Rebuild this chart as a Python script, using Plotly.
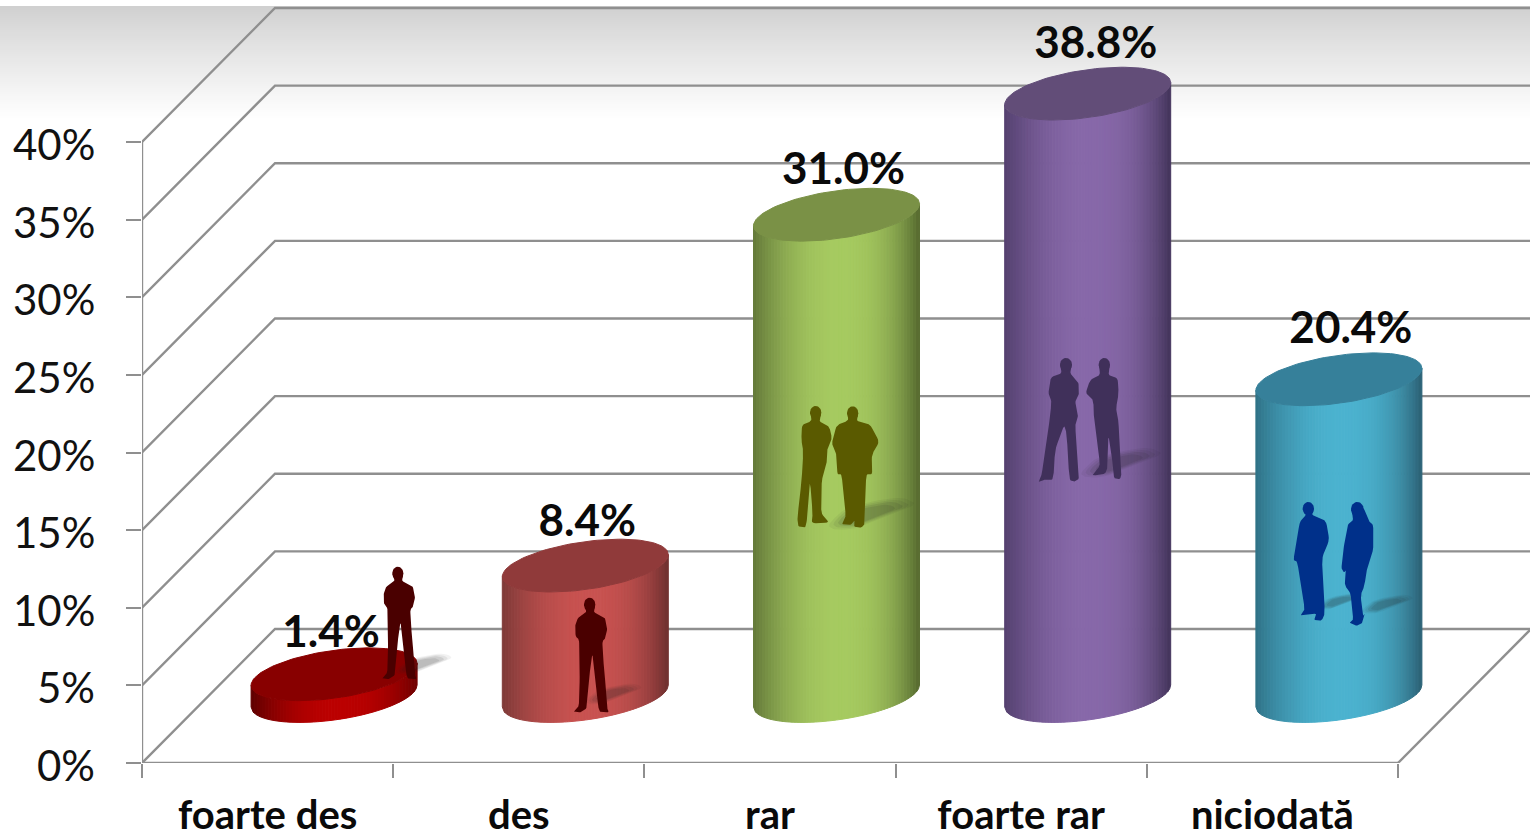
import numpy as np
import plotly.graph_objects as go

# ---------- data ----------
categories = ["foarte des", "des", "rar", "foarte rar", "niciodată"]
values = [1.4, 8.4, 31.0, 38.8, 20.4]
value_labels = ["1.4%", "8.4%", "31.0%", "38.8%", "20.4%"]
y_ticks = [0, 5, 10, 15, 20, 25, 30, 35, 40]
y_tick_labels = ["0%", "5%", "10%", "15%", "20%", "25%", "30%", "35%", "40%"]

# ---------- style ----------
edge_left = ["#5e0000", "#7d3a38", "#64793a", "#54406e", "#2f7186"]
mid_color = ["#bb0000", "#c85250", "#a6ca60", "#8768a9", "#4bb2cf"]
edge_right = ["#6e0000", "#6e3030", "#566a30", "#43345a", "#2c6074"]
top_color = ["#880000", "#903a3a", "#7a9146", "#624d78", "#36809a"]
people_color = ["#4a0000", "#4a0000", "#5a5a00", "#40305a", "#00308a"]
label_dx = [-3, 2, 7, 8, 12]
label_dy = [-38, -41, -42, -47, -47]
GRID = "#8f8f8f"

# ---------- pixel geometry ----------
W, H = 1530, 838
L, B = 142, 75                 # plot area: x 142..1530, y 0..763
PX_PER_CAT = 251.2
PX_PER_PCT = 15.525
DEPTH_X, DEPTH_Y = 133, 134     # offset of the back wall, pixels


def ux(px):
    return (np.asarray(px, float) - L) / PX_PER_CAT


def uy(py):
    return (H - B - np.asarray(py, float)) / PX_PER_PCT


DX, DY = DEPTH_X / PX_PER_CAT, DEPTH_Y / PX_PER_PCT
fig = go.Figure()


def poly(xs, ys, color, opacity=1.0, line=False):
    fig.add_trace(go.Scatter(
        x=list(xs), y=list(ys), mode="lines", fill="toself", fillcolor=color,
        line=dict(color=color, width=1 if line else 0), opacity=opacity,
        hoverinfo="skip", showlegend=False))


def seg(xs, ys):
    fig.add_trace(go.Scatter(x=xs, y=ys, mode="lines", cliponaxis=False,
                             line=dict(color=GRID, width=2.4),
                             hoverinfo="skip", showlegend=False))


# ---------- top gradient ----------
shapes = []
x0_paper = -L / (W - L)
n_bg = 57
for i in range(n_bg):
    py0, py1 = 6 + i * 2, 6 + (i + 1) * 2 + 2
    c = int(round(208 + (255 - 208) * (i / (n_bg - 1)) ** 0.9))
    shapes.append(dict(type="rect", xref="paper", yref="paper", layer="below",
                       x0=x0_paper, x1=1, y0=1 - py1 / (H - B), y1=1 - py0 / (H - B),
                       fillcolor=f"rgb({c},{c},{c})", line=dict(width=0)))

# ---------- walls ----------
x_end = (W - L) / PX_PER_CAT
for v in y_ticks:
    seg([0, DX, x_end], [v, v + DY, v + DY])
seg([0, 0], [0, y_ticks[-1]])
seg([0, len(categories)], [0, 0])
seg([len(categories), len(categories) + DX], [0, DY])


# ---------- cylinders ----------
def hex2rgb(h):
    return np.array([int(h[i:i + 2], 16) for i in (1, 3, 5)], float)


def shade(u, i):
    a = hex2rgb(edge_left[i] if u < 0 else edge_right[i])
    b = hex2rgb(mid_color[i])
    t = (abs(u) ** 1.9) if u < 0 else (abs(u) ** 2.6)
    c = b + (a - b) * t
    return "rgb({:.0f},{:.0f},{:.0f})".format(*c)


RX, TILT, RB = 83 / PX_PER_CAT, 11 / PX_PER_PCT, 24 / PX_PER_PCT
N = 56
for i, v in enumerate(values):
    cx = i + 0.5 + DX / 2
    cy0 = DY / 2
    cy1 = v + DY / 2
    edges = np.linspace(-1, 1, N + 1)
    for a, b in zip(edges[:-1], edges[1:]):
        us = np.linspace(a, b, 4)
        xs = cx + RX * us
        front = TILT * us - RB * np.sqrt(np.clip(1 - us ** 2, 0, 1))
        poly(np.r_[xs, xs[::-1], xs[0]],
             np.r_[cy0 + front, (cy1 + front)[::-1], cy0 + front[0]],
             shade((a + b) / 2, i), line=True)
    th = np.linspace(0, 2 * np.pi, 120)
    poly(cx + RX * np.cos(th), cy1 + TILT * np.cos(th) + RB * np.sin(th), top_color[i], line=True)


# ---------- silhouettes (traced outlines, 3x zoom coordinates of their crops) ----------
man_a = [(50, 10), (67, 20), (62, 43), (95, 57), (103, 90), (98, 120), (88, 130), (90, 175), (98, 265),
         (102, 330), (108, 343), (82, 343), (76, 330), (66, 225), (58, 165), (50, 225), (42, 330),
         (25, 343), (0, 343), (18, 325), (20, 245), (20, 165), (18, 125), (8, 115), (6, 85), (14, 60),
         (40, 45), (36, 20)]
green_l = [(227, 88), (244, 97), (238, 125), (268, 140), (276, 175), (262, 205), (262, 240), (245, 300),
           (243, 400), (268, 428), (215, 430), (218, 400), (210, 300), (205, 380), (200, 425), (196, 442), (175, 440), (172, 415),
           (185, 300), (190, 215), (184, 180), (186, 135), (215, 123), (210, 97)]
green_r = [(338, 90), (354, 100), (350, 123), (390, 133), (418, 185), (395, 225), (397, 283), (378, 283),
           (375, 430), (365, 443), (342, 440), (345, 420), (332, 435), (305, 433), (318, 410), (305, 283),
           (292, 283), (290, 225), (275, 190), (290, 135), (325, 122), (322, 100)]
purple_w = [(138, 35), (156, 42), (150, 70), (175, 95), (178, 130), (165, 155), (175, 195), (165, 225),
            (178, 385), (165, 395), (148, 390), (140, 250), (132, 225), (105, 300), (100, 390), (75, 388),
            (55, 398), (65, 375), (85, 240), (95, 155), (85, 130), (92, 82), (125, 70), (120, 42)]
purple_m = [(253, 35), (270, 42), (265, 75), (293, 85), (296, 130), (288, 175), (295, 210), (305, 370),
            (300, 388), (282, 385), (278, 340), (265, 250), (262, 370), (215, 378), (235, 355), (240, 340),
            (222, 210), (220, 150), (197, 130), (210, 90), (240, 75), (237, 42)]
blue_m = [(205, 77), (222, 85), (215, 105), (258, 122), (268, 180), (245, 235), (255, 400), (245, 422),
          (222, 420), (230, 400), (180, 408), (195, 390), (172, 245), (160, 240), (175, 150), (180, 125),
          (198, 105), (190, 85)]
blue_w = [(352, 77), (372, 85), (385, 122), (400, 135), (400, 210), (383, 255), (373, 318), (362, 345),
          (368, 410), (374, 400), (368, 428), (350, 438), (328, 428), (340, 420), (332, 340), (314, 316),
          (318, 270), (312, 278), (304, 265), (310, 210), (322, 135), (340, 120), (333, 90)]

shadow_r = [(0, 60), (40, 22), (150, 0), (190, 16), (130, 38), (60, 68), (15, 70)]


def chaikin(p, n=2, cut=0.14):
    p = np.asarray(p, float)
    for _ in range(n):
        nxt = np.roll(p, -1, axis=0)
        p = np.column_stack([(1 - cut) * p + cut * nxt, cut * p + (1 - cut) * nxt]).reshape(-1, 2)
    return np.vstack([p, p[:1]])


def silhouette(pts, ox, oy, color, head, scale=1 / 3):
    p = chaikin(pts)
    poly(ux(ox + p[:, 0] * scale), uy(oy + p[:, 1] * scale), color)
    th = np.linspace(0, 2 * np.pi, 30)
    hx, hy, rx, ry = head
    poly(ux(ox + (hx + rx * np.cos(th)) * scale), uy(oy + (hy + ry * np.sin(th)) * scale), color)


def shadow(ox, oy, scale=1 / 3, base="#202020"):
    p = chaikin(shadow_r, 3, 0.2)
    c = p.mean(axis=0)
    for f, o in ((1.25, 0.06), (1.1, 0.08), (0.95, 0.1), (0.75, 0.1)):
        q = c + (p - c) * f
        poly(ux(ox + q[:, 0] * scale), uy(oy + q[:, 1] * scale), base, opacity=o)


# bar 1
shadow(400, 655, 0.25)
silhouette(man_a, 381.5, 567, people_color[0], (50, 20, 17, 21), 0.98 / 3)
# bar 2
shadow(590, 685, 0.25)
silhouette(man_a, 573, 598, people_color[1], (50, 20, 17, 21))
# bar 3
shadow(835, 500, 1 / 2.6)
silhouette(green_l, 740, 380, people_color[2], (227, 98, 17, 20))
silhouette(green_r, 740, 380, people_color[2], (338, 100, 17, 21))
# bar 4
shadow(1087, 450, 1 / 2.8)
silhouette(purple_w, 1020, 350, people_color[3], (138, 44, 18, 20))
silhouette(purple_m, 1020, 350, people_color[3], (253, 44, 17, 20))
# bar 5
shadow(1322, 594, 1 / 5)
shadow(1366, 596, 1 / 4.4)
silhouette(blue_m, 1240, 480, people_color[4], (205, 86, 17, 20))
silhouette(blue_w, 1240, 480, people_color[4], (352, 88, 19, 22))

# ---------- value labels ----------
lab_x = [i + 0.5 + DX / 2 + label_dx[i] / PX_PER_CAT for i in range(len(values))]
lab_y = [v + DY / 2 - label_dy[i] / PX_PER_PCT for i, v in enumerate(values)]
fig.add_trace(go.Scatter(x=lab_x, y=lab_y, text=value_labels, mode="text", textposition="middle center",
                         textfont=dict(family="Lato", size=44, color="#0a0a0a", weight="bold"),
                         hoverinfo="skip", showlegend=False))

# y tick labels sit a little below their ticks in the reference
annotations = [dict(x=(96 - L) / (W - L), y=v, xref="paper", yref="y", text=t, showarrow=False, xanchor="right",
                    yanchor="middle", yshift=-2, align="right", xshift=0, borderpad=0,
                    font=dict(family="Lato", size=42, color="#111111"))
               for v, t in zip(y_ticks, y_tick_labels)]

fig.update_layout(
    width=W, height=H,
    margin=dict(l=L, r=0, t=0, b=B, pad=0, autoexpand=False),
    paper_bgcolor="#ffffff", plot_bgcolor="rgba(0,0,0,0)",
    showlegend=False, shapes=shapes, annotations=annotations,
    xaxis=dict(range=[0, x_end], showgrid=False, zeroline=False, showline=False, automargin=False,
               tickmode="array", tickvals=[i + 0.5 for i in range(len(categories))],
               ticktext=categories, ticks="", ticklabelstandoff=25,
               tickfont=dict(family="Lato", size=40, color="#0a0a0a", weight="bold"),
               minor=dict(tickmode="array", tickvals=list(range(len(categories) + 1)), ticks="outside",
                          ticklen=14, tickwidth=2.4, tickcolor=GRID, showgrid=False)),
    yaxis=dict(range=[0, (H - B) / PX_PER_PCT], showgrid=False, zeroline=False, showline=False, automargin=False,
               tickmode="array", tickvals=y_ticks, showticklabels=False, ticks="outside",
               ticklen=15, tickwidth=2.4, tickcolor=GRID),
)
fig.write_html("out.html", config={"displayModeBar": False},
               post_script="document.body.style.margin='0';document.body.style.overflow='hidden';")
